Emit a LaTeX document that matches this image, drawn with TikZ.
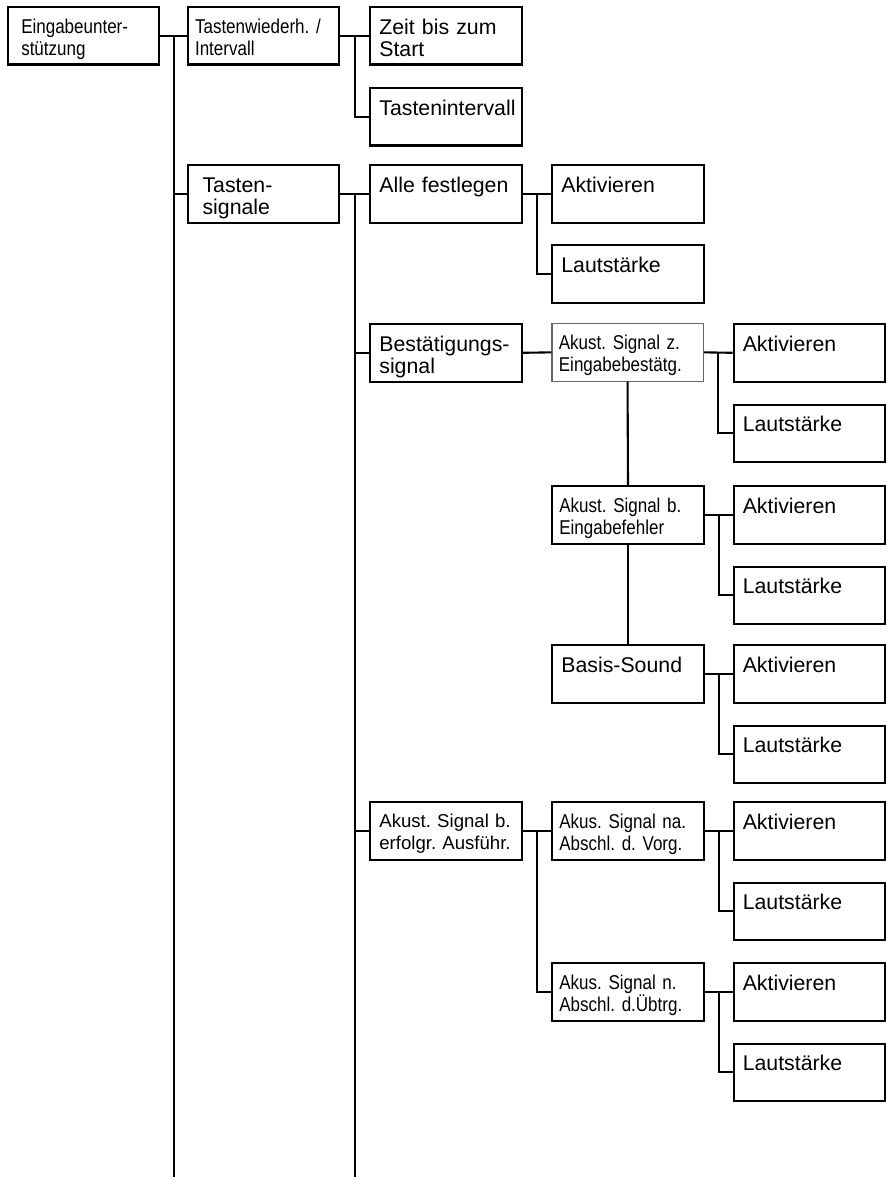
\documentclass[tikz,border=0pt]{standalone}
\usepackage{fontspec}
\setmainfont{Liberation Sans}
\newfontfamily\narrowfont[FakeStretch=0.85, WordSpace=0.9]{Liberation Sans}
\usetikzlibrary{calc}

\begin{document}
\begin{tikzpicture}[
  x=1pt, y=-1pt,
  menu/.style={draw, line width=2.1pt, anchor=north west, align=left,
    inner xsep=9pt, inner ysep=0pt, text width=133.3pt,
    text height=27pt, text depth=30.5pt,
    font=\frenchspacing\fontsize{21.3}{22.5}\selectfont},
  narrow/.style={menu, inner xsep=7pt, text width=137.3pt,
    text height=26pt, text depth=31.5pt,
    font=\frenchspacing\narrowfont\fontsize{20}{22}\selectfont},
  link/.style={line width=2.1pt}
]
  \useasboundingbox (0,0) rectangle (886,1177);
  \coordinate (foot) at (0,1177);

  % first three levels
  \node[narrow, inner xsep=13.5pt, text width=124.3pt] (eingabe) at (6.7,6) {Eingabeunter-\\stützung};
  \node[narrow] (wiederh) at (187,6) {Tastenwiederh. /\\Intervall};
  \node[menu] (zeit) at (369.3,6) {Zeit bis zum\\Start};
  \node[menu] (intervall) at (369.3,87) {Tastenintervall};
  \node[menu, inner xsep=14.5pt, text width=122.3pt] (signale) at (187,164) {Tasten-\\signale};
  \node[menu] (festlegen) at (369.3,164) {Alle festlegen};
  \node[menu] (bestaet) at (369.3,323) {Bestätigungs-\\signal};
  \node[menu, text height=25pt, text depth=32.5pt, font=\frenchspacing\fontsize{18.6}{22}\selectfont]
    (erfolg) at (369.3,801) {Akust. Signal b.\\erfolgr. Ausführ.};

  % fourth level
  \node[menu] (aktiv-festlegen) at (551.3,164) {Aktivieren};
  \node[menu] (laut-festlegen) at (551.3,244) {Lautstärke};
  \node[narrow, draw=black!60, line width=1.2pt] (akustz) at (551.3,323) {Akust. Signal z.\\Eingabebestätg.};
  \node[narrow] (akustb) at (551.3,485) {Akust. Signal b.\\Eingabefehler};
  \node[menu] (basis) at (551.3,644) {Basis-Sound};
  \node[narrow] (vorg) at (551.3,801) {Akus. Signal na.\\Abschl. d. Vorg.};
  \node[narrow] (uebtr) at (551.3,962) {Akus. Signal n.\\Abschl. d.Übtrg.};

  \draw[link] (eingabe.east) -- (wiederh.west);
  \coordinate (j1) at ($(eingabe.east)!.5!(wiederh.west)$);
  \draw[link] (j1) -- (j1 |- foot);
  \draw[link] (j1 |- signale.west) -- (signale.west);

  \draw[link] (wiederh.east) -- (zeit.west);
  \draw[link] ($(wiederh.east)!.5!(zeit.west)$) |- (intervall.west);

  \draw[link] (signale.east) -- (festlegen.west);
  \coordinate (j2) at ($(signale.east)!.5!(festlegen.west)$);
  \draw[link] (j2) -- (j2 |- foot);
  \draw[link] (j2 |- bestaet.west) -- (bestaet.west);
  \draw[link] (j2 |- erfolg.west) -- (erfolg.west);

  \draw[link] (festlegen.east) -- (aktiv-festlegen.west);
  \draw[link] ($(festlegen.east)!.5!(aktiv-festlegen.west)$) |- (laut-festlegen.west);

  \draw[link] (bestaet.east) -- (akustz.west);
  \draw[link] (akustz.south) -- (akustb.north);
  \draw[link] (akustb.south) -- (basis.north);

  \draw[link] (erfolg.east) -- (vorg.west);
  \draw[link] ($(erfolg.east)!.5!(vorg.west)$) |- (uebtr.west);

  % Aktivieren / Lautstaerke pairs
  \foreach \p/\y in {akustz/323, akustb/485, basis/644, vorg/801, uebtr/962} {
    \node[menu] (aktiv-\p) at (732.7,\y) {Aktivieren};
    \node[menu] (laut-\p) at (732.7,\y+80.5) {Lautstärke};
    \draw[link] (\p.east) -- (aktiv-\p.west);
    \draw[link] ($(\p.east)!.5!(aktiv-\p.west)$) |- (laut-\p.west);
  }
\end{tikzpicture}
\end{document}
